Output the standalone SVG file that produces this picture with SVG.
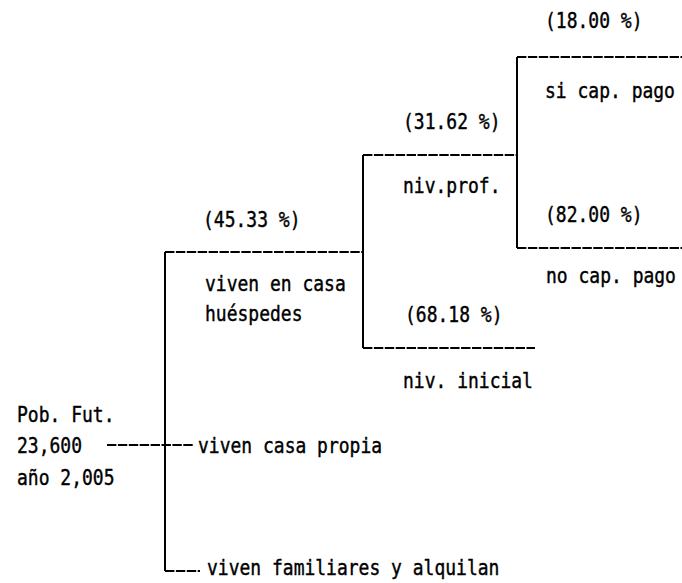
<svg xmlns="http://www.w3.org/2000/svg" width="682" height="583" viewBox="0 0 682 583">
<style>
text{font-family:"DejaVu Sans Mono","Liberation Mono",monospace;font-size:18px;fill:#000;stroke:#000;stroke-width:0.35;}
.h{stroke:#000;stroke-width:2;fill:none;stroke-dasharray:9.4 1.5;}
.v{stroke:#000;stroke-width:2;fill:none;}
</style>
<rect width="682" height="583" fill="#fff"/>
<g id="connectors">
<line class="h" x1="107" y1="445" x2="194" y2="445"/>
<line class="v" x1="165" y1="252" x2="165" y2="571"/>
<line class="h" x1="165" y1="252" x2="363" y2="252"/>
<line class="h" x1="165" y1="571" x2="200" y2="571"/>
<line class="v" x1="363" y1="155" x2="363" y2="348"/>
<line class="h" x1="363" y1="155" x2="517" y2="155"/>
<line class="h" x1="363" y1="348" x2="535" y2="348"/>
<line class="v" x1="517" y1="57" x2="517" y2="248"/>
<line class="h" x1="517" y1="57" x2="682" y2="57"/>
<line class="h" x1="517" y1="248" x2="682" y2="248"/>
</g>
<g id="root"><text transform="translate(17 422) scale(1 1.22)">Pob. Fut.</text><text transform="translate(17 453) scale(1 1.22)">23,600</text><text transform="translate(17 485) scale(1 1.22)">año 2,005</text></g>
<g id="huespedes"><text transform="translate(203 227) scale(1 1.22)">(45.33 %)</text><text transform="translate(205 291) scale(1 1.22)">viven en casa</text><text transform="translate(205 321) scale(1 1.22)">huéspedes</text></g>
<g id="propia"><text transform="translate(198 453) scale(1 1.22)">viven casa propia</text></g>
<g id="familiares"><text transform="translate(207 575) scale(1 1.22)">viven familiares y alquilan</text></g>
<g id="prof"><text transform="translate(403 129) scale(1 1.22)">(31.62 %)</text><text transform="translate(403 193) scale(1 1.22)">niv.prof.</text></g>
<g id="inicial"><text transform="translate(405 322) scale(1 1.22)">(68.18 %)</text><text transform="translate(403 388) scale(1 1.22)">niv. inicial</text></g>
<g id="si-pago"><text transform="translate(545 28) scale(1 1.22)">(18.00 %)</text><text transform="translate(545 98) scale(1 1.22)">si cap. pago</text></g>
<g id="no-pago"><text transform="translate(545 222) scale(1 1.22)">(82.00 %)</text><text transform="translate(546 283) scale(1 1.22)">no cap. pago</text></g>
</svg>
